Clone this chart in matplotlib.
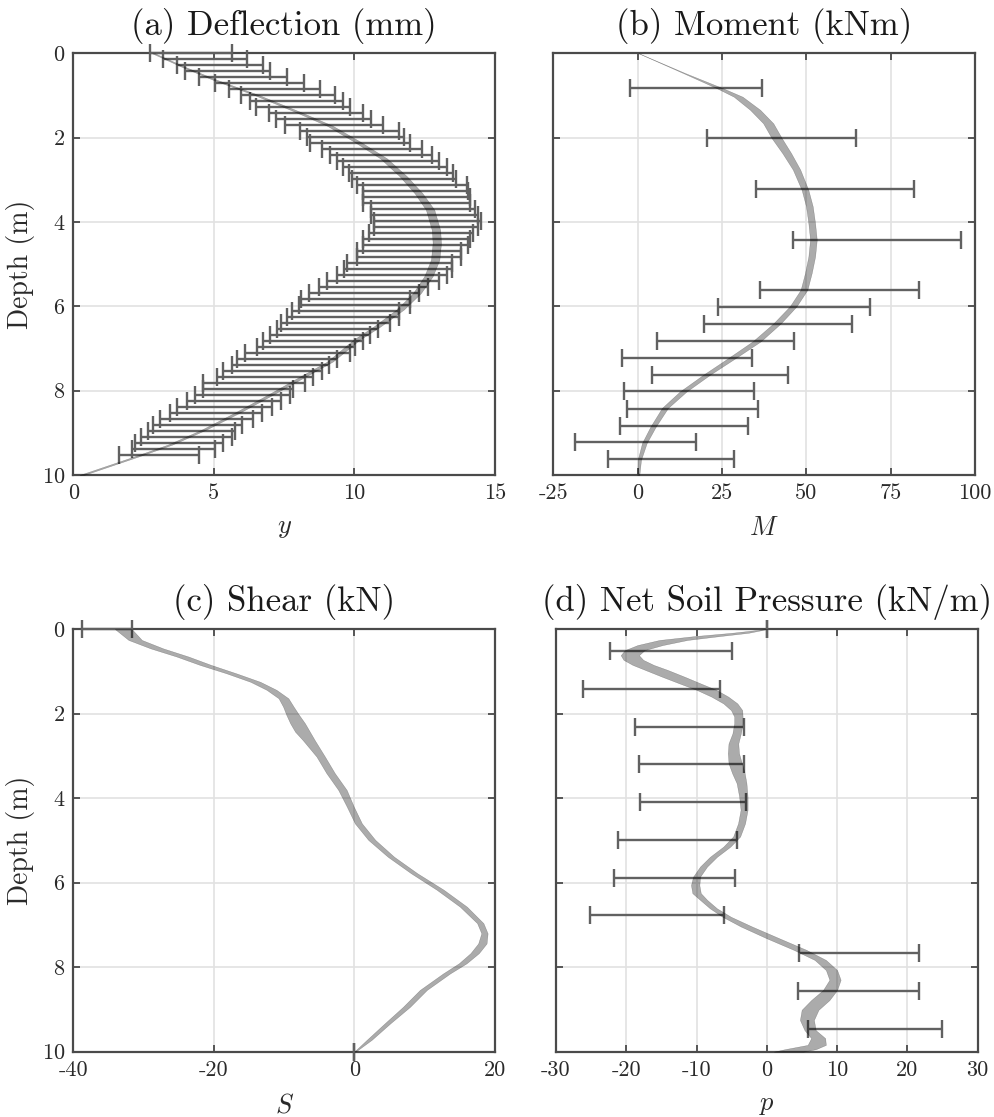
import numpy as np
import matplotlib
matplotlib.use("Agg")
import matplotlib.pyplot as plt

plt.rcParams['font.family'] = 'cmr10'
plt.rcParams['mathtext.fontset'] = 'cm'
plt.rcParams['axes.unicode_minus'] = False
plt.rcParams['axes.formatter.use_mathtext'] = True

# ---- (a) deflection ----
defl_depth = [0, 0.32, 0.63, 0.99, 1.38, 1.72, 2.09, 2.49, 2.92, 3.32, 3.71, 4.19, 4.5,
              4.9, 5.29, 5.69, 6.08, 6.48, 6.79, 7.31, 7.66, 8.1, 8.53, 8.93, 9.28, 9.56, 10.0]
defl_mean = [2.85, 3.91, 5.04, 6.52, 7.95, 9.13, 10.08, 11.03, 11.74, 12.28, 12.69, 12.9, 12.93,
             12.87, 12.63, 12.22, 11.62, 10.8, 10.08, 9.13, 8.18, 7.0, 5.81, 4.63, 3.44, 2.25, 0.3]
defl_half = [0.05, 0.06, 0.07, 0.08, 0.09, 0.1, 0.11, 0.12, 0.13, 0.14, 0.15, 0.15, 0.15,
             0.15, 0.15, 0.14, 0.13, 0.12, 0.11, 0.1, 0.1, 0.09, 0.09, 0.08, 0.08, 0.08, 0.08]

defl_bar_depth = [0.00, 0.14, 0.28, 0.43, 0.57, 0.71, 0.85, 0.99, 1.14, 1.28, 1.42, 1.56, 1.71, 1.85,
                  1.99, 2.13, 2.28, 2.42, 2.56, 2.70, 2.84, 2.99, 3.13, 3.27, 3.41, 3.55, 3.69, 3.84,
                  3.98, 4.12, 4.26, 4.41, 4.55, 4.69, 4.83, 4.97, 5.12, 5.26, 5.40, 5.54, 5.68, 5.83,
                  5.97, 6.11, 6.25, 6.40, 6.54, 6.68, 6.82, 6.96, 7.11, 7.25, 7.39, 7.53, 7.67, 7.82,
                  7.96, 8.10, 8.24, 8.38, 8.53, 8.67, 8.81, 8.95, 9.09, 9.24, 9.38, 9.52]
defl_bar_lo = [2.73, 3.20, 3.70, 3.97, 4.48, 5.04, 5.55, 5.97, 6.29, 6.50, 6.96, 7.20, 7.53, 8.07,
               8.30, 8.42, 8.84, 9.13, 9.37, 9.60, 9.81, 9.90, 10.10, 10.30, 10.30, 10.30, 10.60, 10.60,
               10.70, 10.70, 10.50, 10.30, 10.30, 10.10, 10.10, 9.73, 9.63, 9.37, 9.04, 8.75, 8.40, 8.10,
               8.04, 7.77, 7.60, 7.40, 7.24, 6.98, 6.74, 6.52, 6.11, 5.81, 5.63, 5.34, 5.10, 4.63,
               4.63, 4.33, 4.03, 3.68, 3.44, 3.08, 2.85, 2.67, 2.40, 2.19, 2.08, 1.64]
defl_bar_hi = [5.66, 6.18, 6.74, 7.00, 7.59, 8.22, 8.78, 9.31, 9.60, 9.85, 10.32, 10.60, 11.03, 11.57,
               11.78, 11.98, 12.40, 12.75, 12.99, 13.29, 13.50, 13.60, 14.00, 14.05, 14.10, 14.10, 14.30, 14.40,
               14.50, 14.40, 14.20, 14.10, 14.05, 13.80, 13.80, 13.46, 13.46, 13.30, 13.00, 12.63, 12.30, 11.96,
               11.96, 11.60, 11.57, 11.25, 10.85, 10.56, 10.32, 10.02, 9.85, 9.37, 9.11, 8.84, 8.54, 8.24,
               7.80, 7.71, 7.38, 7.06, 6.70, 6.40, 5.99, 5.75, 5.63, 5.34, 5.04, 4.48]

# ---- (b) moment ----
mom_depth = [0, 0.47, 0.83, 1.03, 1.34, 1.66, 2.01, 2.37, 2.76, 3.24, 3.63, 4.03, 4.42, 4.82,
             5.21, 5.61, 6.0, 6.4, 6.83, 7.23, 7.62, 8.02, 8.41, 8.85, 9.24, 9.64, 10]
mom_mean = [0.3, 13.8, 24.4, 29.8, 34.8, 38.7, 41.2, 44.2, 47.1, 49.6, 50.9, 51.6, 52.1, 51.6,
            50.6, 49.3, 46.1, 41.4, 35.3, 27.9, 20.5, 13.5, 8.1, 4.6, 2.0, 0.5, 0.2]
mom_half = [0.05, 0.3, 0.9, 1.3, 1.5, 1.5, 1.5, 1.3, 1.1, 1.0, 1.0, 1.0, 1.0, 1.0,
            1.0, 1.0, 1.0, 1.1, 1.2, 1.1, 1.0, 1.0, 0.9, 0.8, 0.7, 0.5, 0.3]
mom_bar_depth = [0.83, 2.01, 3.22, 4.42, 5.61, 6.02, 6.42, 6.83, 7.23, 7.62, 8.02, 8.44, 8.83, 9.23, 9.62]
mom_bar_lo = [-2.3, 20.6, 35.1, 46.1, 36.3, 23.9, 19.8, 5.6, -4.6, 4.4, -4.0, -3.3, -5.1, -18.6, -8.7]
mom_bar_hi = [36.8, 64.6, 82.0, 95.8, 83.5, 68.9, 63.4, 46.3, 33.8, 44.7, 34.6, 35.6, 32.8, 17.2, 28.7]

# ---- (c) shear ----
shear_depth = [0, 0.26, 0.46, 0.65, 0.85, 1.05, 1.25, 1.44, 1.64, 1.84, 2.03, 2.23, 2.43, 2.63,
               3.02, 3.41, 3.81, 4.2, 4.6, 4.99, 5.39, 5.78, 6.17, 6.57, 6.96, 7.2, 7.44, 7.67,
               7.91, 8.15, 8.54, 8.94, 9.33, 9.72, 10]
shear_mean = [-32.9, -31.2, -28.1, -24.5, -21.2, -17.5, -14.1, -11.8, -10.1, -9.4, -8.8, -8.1, -7.4, -6.5,
              -4.8, -3.4, -1.7, -0.6, 0.56, 2.46, 5.2, 8.5, 12.2, 15.5, 17.9, 18.5, 18.2, 17.1,
              15.4, 13.1, 9.8, 7.4, 4.7, 2.1, 0.05]
shear_half = [1.2, 0.95, 0.9, 0.85, 0.8, 0.7, 0.7, 0.7, 0.7, 0.75, 0.9, 1.05, 1.05, 0.85,
              0.6, 0.6, 0.6, 0.5, 0.5, 0.5, 0.45, 0.45, 0.5, 0.5, 0.45, 0.45, 0.6, 0.6,
              0.55, 0.5, 0.5, 0.5, 0.4, 0.35, 0.1]
shear_bar_depth = [0, 10]
shear_bar_lo = [-38.8, 0.0]
shear_bar_hi = [-31.7, 0.0]

# ---- (d) net soil pressure ----
pres_depth = [0, 0.09, 0.17, 0.26, 0.38, 0.5, 0.62, 0.73, 0.85, 0.97, 1.13, 1.29, 1.44, 1.6, 1.76,
              1.92, 2.07, 2.23, 2.47, 2.71, 2.94, 3.18, 3.41, 3.65, 3.97, 4.28, 4.6, 4.91, 5.15,
              5.39, 5.62, 5.86, 6.06, 6.25, 6.41, 6.61, 6.81, 7.04, 7.32, 7.59, 7.83, 8.07, 8.3,
              8.54, 8.78, 9.01, 9.25, 9.49, 9.68, 9.84, 9.94, 10]
pres_mean = [0, -3.8, -8.6, -13.3, -16.6, -18.8, -19.5, -19.0, -17.6, -15.7, -13.3, -10.9, -8.6, -6.7, -5.2,
             -4.3, -4.05, -4.05, -4.3, -4.76, -4.76, -4.5, -4.05, -3.6, -3.34, -3.24, -3.6, -4.3, -5.7,
             -7.6, -9.0, -10.0, -10.2, -10.0, -9.0, -7.6, -5.7, -2.9, 0.9, 4.7, 7.6, 9.2, 9.7,
             9.0, 7.6, 6.15, 5.7, 6.15, 7.3, 7.1, 4.8, 3.1]
pres_half = [0.1, 1.2, 1.8, 2.0, 1.8, 1.4, 1.3, 1.4, 1.5, 1.6, 1.6, 1.5, 1.4, 1.2, 1.0,
             0.8, 0.6, 0.6, 0.6, 0.7, 0.8, 0.95, 0.9, 0.7, 0.6, 0.5, 0.5, 0.5, 0.5,
             0.5, 0.5, 0.5, 0.6, 0.6, 0.5, 0.5, 0.6, 0.8, 0.9, 0.9, 0.8, 0.8, 0.8,
             1.0, 1.3, 1.2, 1.0, 0.8, 1.0, 1.3, 2.2, 2.1]
pres_bar_depth = [0, 0.52, 1.43, 2.33, 3.2, 4.1, 4.99, 5.88, 6.77, 7.66, 8.56, 9.47]
pres_bar_lo = [0.0, -22.3, -26.2, -18.7, -18.2, -18.0, -21.2, -21.7, -25.1, 4.6, 4.5, 5.9]
pres_bar_hi = [0.0, -4.9, -6.6, -3.3, -3.2, -3.0, -4.3, -4.6, -6.1, 21.7, 21.6, 24.9]

panels = [
    dict(pos=[0.0737, 0.5748, 0.4238, 0.3775], title='(a) Deflection (mm)', xlabel='$y$',
         xlim=(0, 15), xticks=[0, 5, 10, 15], band=(defl_depth, defl_mean, defl_half),
         bars=(defl_bar_depth, defl_bar_lo, defl_bar_hi), ylab=True),
    dict(pos=[0.5561, 0.5748, 0.4238, 0.3775], title='(b) Moment (kNm)', xlabel='$M$',
         xlim=(-25, 100), xticks=[-25, 0, 25, 50, 75, 100], band=(mom_depth, mom_mean, mom_half),
         bars=(mom_bar_depth, mom_bar_lo, mom_bar_hi), ylab=False),
    dict(pos=[0.0737, 0.0585, 0.4238, 0.3784], title='(c) Shear (kN)', xlabel='$S$',
         xlim=(-40, 20), xticks=[-40, -20, 0, 20], band=(shear_depth, shear_mean, shear_half),
         bars=(shear_bar_depth, shear_bar_lo, shear_bar_hi), ylab=True),
    dict(pos=[0.5588, 0.0585, 0.4238, 0.3784], title='(d) Net Soil Pressure (kN/m)', xlabel='$p$',
         xlim=(-30, 30), xticks=[-30, -20, -10, 0, 10, 20, 30], band=(pres_depth, pres_mean, pres_half),
         bars=(pres_bar_depth, pres_bar_lo, pres_bar_hi), ylab=False),
]

fig = plt.figure(figsize=(9.95, 11.17), dpi=100)
edge = '#4a4a4a'
for p in panels:
    ax = fig.add_axes(p['pos'])
    d, m, h = [np.array(a, dtype=float) for a in p['band']]
    bd, lo, hi = [np.array(a, dtype=float) for a in p['bars']]
    eb = ax.errorbar((lo + hi) / 2, bd, xerr=(hi - lo) / 2, fmt='none', ecolor='#616161',
                     elinewidth=1.7, capsize=6.5, capthick=1.7, zorder=3)
    for art in list(eb[1]) + list(eb[2]):
        art.set_clip_on(False)
    ax.fill_betweenx(d, m - h, m + h, color='black', alpha=0.33, lw=0.3, zorder=4)
    ax.set_xlim(*p['xlim'])
    ax.set_ylim(10, 0)
    ax.set_xticks(p['xticks'])
    ax.set_xticklabels([str(t) for t in p['xticks']])
    ax.set_yticks([0, 2, 4, 6, 8, 10])
    ax.grid(True, color='#e2e2e2', lw=1.2, zorder=0)
    ax.set_axisbelow(True)
    for s in ax.spines.values():
        s.set_color(edge)
        s.set_linewidth(1.6)
    ax.tick_params(direction='in', top=True, right=True, length=5, width=1.3, color=edge,
                   labelsize=16, labelcolor='#2a2a2a', pad=6, labelleft=p['ylab'])
    ax.set_title(p['title'], fontsize=25, pad=13, color='#1a1a1a')
    ax.set_xlabel(p['xlabel'], fontsize=19, labelpad=10, color='#2a2a2a')
    if p['ylab']:
        ax.set_ylabel('Depth (m)', fontsize=20, labelpad=5, color='#2a2a2a')

fig.savefig('out.png', dpi=100)
